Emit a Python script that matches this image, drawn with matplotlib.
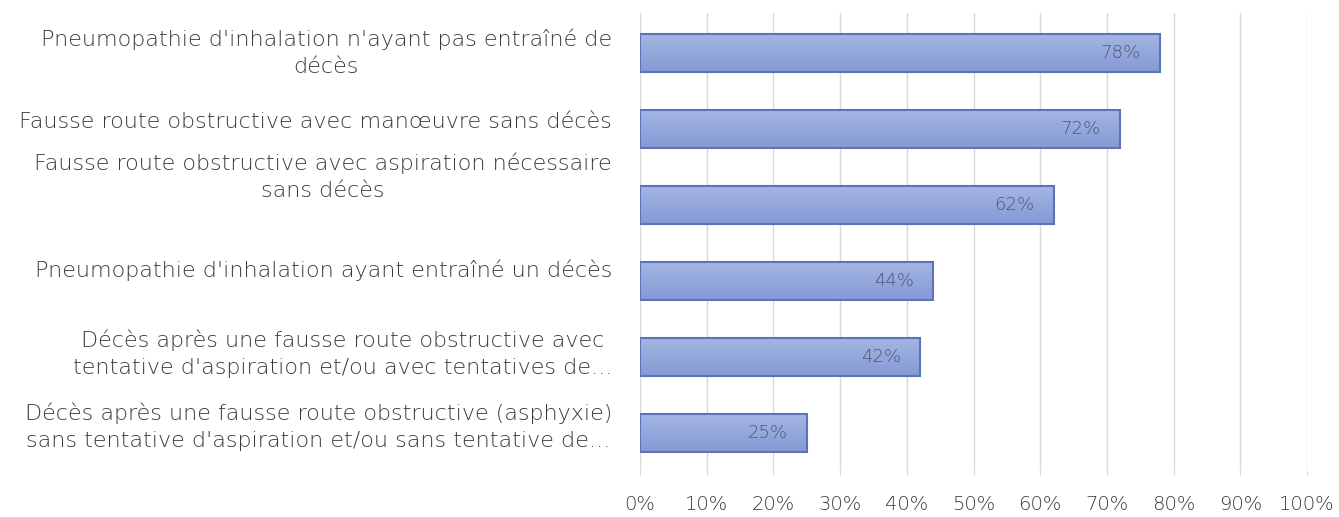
import matplotlib
matplotlib.use("Agg")
import matplotlib.pyplot as plt
import numpy as np
from matplotlib.colors import LinearSegmentedColormap
from matplotlib.ticker import MultipleLocator, PercentFormatter

categories = [
    "Pneumopathie d'inhalation n'ayant pas entraîné de\ndécès",
    "Fausse route obstructive avec manœuvre sans décès",
    "Fausse route obstructive avec aspiration nécessaire\nsans décès",
    "Pneumopathie d'inhalation ayant entraîné un décès",
    "Décès après une fausse route obstructive avec\ntentative d'aspiration et/ou avec tentatives de...",
    "Décès après une fausse route obstructive (asphyxie)\nsans tentative d'aspiration et/ou sans tentative de...",
]
values = [0.78, 0.72, 0.62, 0.44, 0.42, 0.25]
value_labels = ["78%", "72%", "62%", "44%", "42%", "25%"]

# labels sit a little above their bars (row units, negative = up)
label_shift = [0.0, -0.09, -0.37, -0.14, -0.04, -0.08]

TEXT = "#3a3a3a"
GRID = "#d9d9d9"
EDGE = "#5a74b8"
bar_cmap = LinearSegmentedColormap.from_list("bar", ["#a6b6e3", "#94a8dc", "#8699d5"])

fig = plt.figure(figsize=(13.39, 5.17), dpi=100)
ax = fig.add_axes([640 / 1339, 46 / 517, 667 / 1339, 458 / 517])

pos = list(range(len(categories)))
bars = ax.barh(pos, values, height=0.51, color="none", edgecolor=EDGE, linewidth=1.5, zorder=3)

# vertical gradient inside each bar
grad = np.linspace(0, 1, 64).reshape(-1, 1)
for b in bars:
    x0, y0 = b.get_x(), b.get_y()
    im = ax.imshow(grad, cmap=bar_cmap, aspect="auto", zorder=2,
                   extent=(x0, x0 + b.get_width(), y0 + b.get_height(), y0),
                   origin="upper")
    im.set_clip_path(b)

for y, v, lab in zip(pos, values, value_labels):
    ax.annotate(lab, (v, y), xytext=(-14, 0), textcoords="offset points",
                ha="right", va="center", fontsize=13, fontweight=200,
                color="#4d5678", zorder=4)

ax.set_xlim(0, 1)
ax.set_ylim(5.5, -0.526)
ax.xaxis.set_major_locator(MultipleLocator(0.1))
ax.xaxis.set_major_formatter(PercentFormatter(1.0, decimals=0))
ax.grid(axis="x", color=GRID, linewidth=1, zorder=0)
ax.tick_params(axis="x", length=3, color=GRID, labelsize=14, labelcolor=TEXT, pad=14)
for t in ax.get_xticklabels():
    t.set_fontweight(200)
ax.set_yticks([])
for s in ax.spines.values():
    s.set_visible(False)

for y, lab, dy in zip(pos, categories, label_shift):
    ax.text(-0.042, y + dy, lab, transform=ax.get_yaxis_transform(),
            ha="right", va="center", multialignment="center",
            fontsize=16, fontweight=200, color=TEXT, linespacing=1.45)

fig.savefig("out.png", dpi=100, facecolor="white")
